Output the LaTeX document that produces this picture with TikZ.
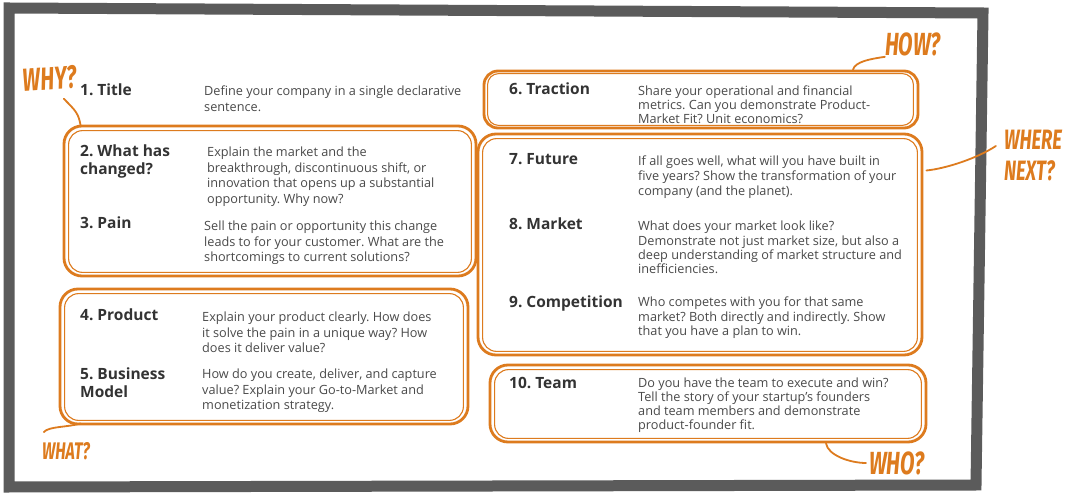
\documentclass[tikz,border=0pt]{standalone}
\usepackage{fontspec}
\setmainfont{Open Sans}
\newfontfamily\hand[FakeStretch=0.66]{Fira Sans}
\usetikzlibrary{calc}
\frenchspacing
\definecolor{org}{HTML}{DD7B1E}
\definecolor{frm}{HTML}{5B5B5B}
\definecolor{tcol}{HTML}{333333}
\definecolor{dcol}{HTML}{4A4A4A}
\newcommand{\ml}[1]{\begin{tabular}[t]{@{}l@{}}#1\end{tabular}}
\tikzset{
  obox/.style={draw=org, line width=2.8pt, rounded corners=18pt, inner sep=0pt},
  oin/.style={draw=org, line width=1.1pt, rounded corners=14pt},
  oline/.style={draw=org, line width=1.8pt, line cap=round},
  ttl/.style={anchor=base west, inner sep=0pt, text=tcol, font=\bfseries\fontsize{15.5}{18}\selectfont},
  dsc/.style={anchor=base west, inner sep=0pt, text=dcol, font=\fontsize{12.7}{15.5}\selectfont},
  hnd/.style={inner sep=0pt, align=left, text=org, font=\hand\bfseries\itshape\fontsize{32}{32}\selectfont},
}
\begin{document}
\begin{tikzpicture}[x=1pt,y=-1pt]
\useasboundingbox (0,0) rectangle (1080,494);
\fill[white] (0,0) rectangle (1080,494);
% frame
\draw[frm, line width=11pt, line join=miter] (9,8) -- (983,13) -- (976,485) -- (9,487) -- cycle;

% boxes
\node[obox, minimum width=412pt, minimum height=150pt] (bwhy) at (270,201) {};
\node[obox, minimum width=408pt, minimum height=135pt] (bwhat) at (264,356.5) {};
\node[obox, minimum width=434pt, minimum height=57pt, rounded corners=14pt] (bhow) at (701,99.5) {};
\node[obox, minimum width=444pt, minimum height=221pt] (bwhere) at (700,244.5) {};
\node[obox, minimum width=436pt, minimum height=77pt] (bwho) at (708,403.5) {};
\foreach \b in {bwhy,bwhat,bwhere,bwho}{
  \draw[oin] ($(\b.north west)+(6,6)$) rectangle ($(\b.south east)+(-6,-5)$);
}
\draw[oin, rounded corners=11pt] ($(bhow.north west)+(5,4)$) rectangle ($(bhow.south east)+(-6,-4)$);

% texts left
\node[ttl] (t1) at (80,96) {1. Title};
\node[dsc] (d1) at (204,96) {\ml{Define your company in a single declarative\\sentence.}};
\node[ttl] (t2) at (80,157) {\ml{2. What has\\changed?}};
\node[dsc] (d2) at (207,157) {\ml{Explain the market and the\\breakthrough, discontinuous shift, or\\innovation that opens up a substantial\\opportunity. Why now?}};
\node[ttl] (t3) at (80,229) {3. Pain};
\node[dsc] (d3) at (204,231) {\ml{Sell the pain or opportunity this change\\leads to for your customer. What are the\\shortcomings to current solutions?}};
\node[ttl] (t4) at (80,321) {4. Product};
\node[dsc] (d4) at (202,322) {\ml{Explain your product clearly. How does\\it solve the pain in a unique way? How\\does it deliver value?}};
\node[ttl] (t5) at (80,380) {\ml{5. Business\\Model}};
\node[dsc] (d5) at (202,379) {\ml{How do you create, deliver, and capture\\value? Explain your Go-to-Market and\\monetization strategy.}};

% texts right
\node[ttl] (t6) at (509,95) {6. Traction};
\node[dsc, font=\fontsize{12.7}{13.3}\selectfont] (d6) at (638,96) {\ml{Share your operational and financial\\metrics. Can you demonstrate Product-\\Market Fit? Unit economics?}};
\node[ttl] (t7) at (509,165) {7. Future};
\node[dsc, font=\fontsize{12.7}{15}\selectfont] (d7) at (638,166) {\ml{If all goes well, what will you have built in\\five years? Show the transformation of your\\company (and the planet).}};
\node[ttl] (t8) at (509,230) {8. Market};
\node[dsc, font=\fontsize{12.7}{14.3}\selectfont] (d8) at (638,231) {\ml{What does your market look like?\\Demonstrate not just market size, but also a\\deep understanding of market structure and\\inefficiencies.}};
\node[ttl] (t9) at (509,308) {9. Competition};
\node[dsc, font=\fontsize{12.7}{14.5}\selectfont] (d9) at (638,307) {\ml{Who competes with you for that same\\market? Both directly and indirectly. Show\\that you have a plan to win.}};
\node[ttl] (t10) at (509,389) {10. Team};
\node[dsc, font=\fontsize{12.7}{14}\selectfont] (d10) at (638,388) {\ml{Do you have the team to execute and win?\\Tell the story of your startup's founders\\and team members and demonstrate\\product-founder fit.}};

% hand labels
\node[hnd, rotate=4] (lwhy) at (50,79) {WHY?};
\node[hnd] (lhow) at (913,44) {HOW?};
\node[hnd, font=\hand\bfseries\itshape\fontsize{28}{31}\selectfont] (lwhere) at (1033,156) {WHERE\\NEXT?};
\node[hnd, font=\hand\bfseries\itshape\fontsize{24}{24}\selectfont] (lwhat) at (66,451) {WHAT?};
\node[hnd] (lwho) at (897,463) {WHO?};

% connector ends
\coordinate (cwhy) at ($(bwhy.north west)+(18,1)$);
\coordinate (chow) at ($(bhow.north)+(152,0)$);
\coordinate (cwhere) at ($(bwhere.east)+(3,-74)$);
\coordinate (cwhat) at ($(bwhat.south west)+(22,-2)$);
\coordinate (cwho) at ($(bwho.south)+(118,0)$);

\draw[oline] ($(lwhy.south)+(13,8)$) .. controls +(12,12) and +(-2,-12) .. (cwhy);
\draw[oline] ($(lhow.south west)+(0,1)$) .. controls +(-14,2) and +(2,-8) .. (chow);
\draw[oline] ($(lwhere.west)+(-8,-10)$) .. controls +(-18,12) and +(20,-2) .. (cwhere);
\draw[oline] ($(lwhat.north west)+(2,-10)$) .. controls +(5,-6) and +(-12,4) .. (cwhat);
\draw[oline] (cwho) .. controls +(2,12) and +(-16,0) .. ($(lwho.west)+(-3,0)$);
\end{tikzpicture}
\end{document}
